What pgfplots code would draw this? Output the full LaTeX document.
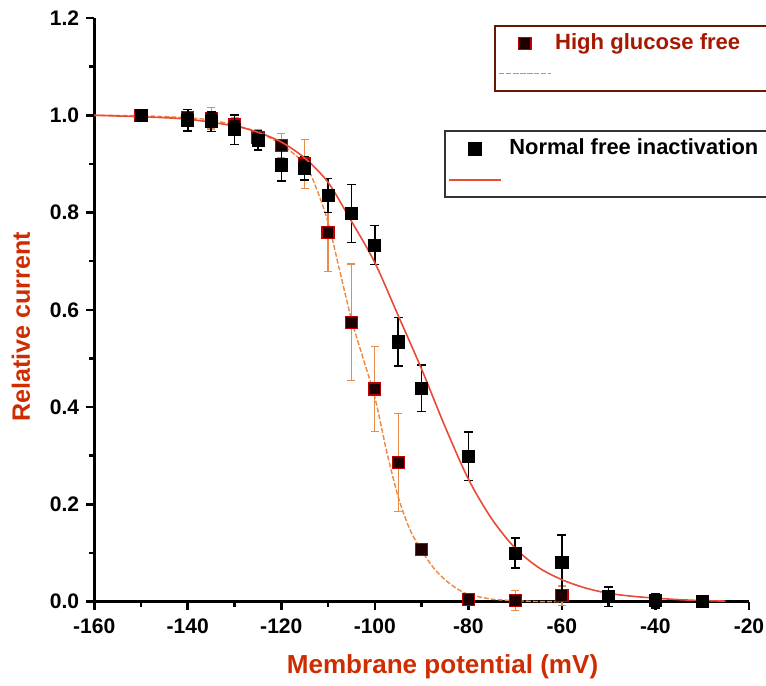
\documentclass[border=0pt]{standalone}
\usepackage{pgfplots}
\pgfplotsset{compat=1.18}
\usepackage{pgfplotstable}
\usepackage{fontspec}
\setmainfont{Liberation Sans}
\definecolor{labred}{RGB}{205,45,0}
\definecolor{hgred}{RGB}{165,25,0}
\definecolor{hgbox}{RGB}{100,25,0}
\definecolor{fitred}{RGB}{232,75,55}
\definecolor{fitorange}{RGB}{240,135,60}
\definecolor{errorange}{RGB}{232,140,70}

\pgfplotstableread{
x y e
-150 1.000 0.005
-140 0.990 0.022
-135 0.987 0.020
-130 0.970 0.030
-125 0.949 0.020
-120 0.898 0.033
-115 0.891 0.024
-110 0.835 0.035
-105 0.798 0.060
-100 0.733 0.040
-95 0.534 0.050
-90 0.439 0.048
-80 0.299 0.050
-70 0.100 0.031
-60 0.080 0.057
-50 0.010 0.020
-40 0.002 0.015
-30 0.000 0.004
}\normdata

\pgfplotstableread{
x y e
-150 1.000 0.005
-140 0.995 0.010
-135 0.994 0.022
-130 0.980 0.015
-125 0.955 0.015
-120 0.938 0.025
-115 0.900 0.050
-110 0.759 0.080
-105 0.574 0.120
-100 0.437 0.088
-95 0.286 0.100
-90 0.107 0.010
-80 0.005 0.010
-70 0.002 0.020
-60 0.012 0.020
}\hgdata

\pgfplotstableread{
x y
-160 1.000
-150 0.997
-140 0.992
-130 0.978
-125 0.965
-120 0.945
-115 0.912
-110 0.862
-105 0.782
-100 0.697
-95 0.588
-90 0.478
-85 0.360
-80 0.252
-75 0.170
-70 0.110
-65 0.070
-60 0.045
-55 0.028
-50 0.017
-45 0.011
-40 0.007
-35 0.004
-30 0.002
-25 0.001
}\normfit

\pgfplotstableread{
x y
-160 1.000
-150 0.999
-140 0.995
-135 0.990
-130 0.980
-125 0.965
-120 0.940
-115 0.900
-112.5 0.850
-110 0.780
-107.5 0.680
-105 0.580
-102.5 0.500
-100 0.420
-97.5 0.310
-95 0.215
-92.5 0.148
-90 0.105
-87.5 0.070
-85 0.045
-82.5 0.027
-80 0.015
-75 0.005
-70 0.002
-65 0.000
-60 0.000
}\hgfit

\pgfplotsset{
  base/.style={
    scale only axis, width=326.5pt, height=291pt,
    xmin=-160, xmax=-20, ymin=0, ymax=1.2,
    clip=false,
    legend cell align=left,
    legend image code/.code={\draw[mark repeat=2,mark phase=2,##1] plot coordinates {(0pt,0pt)(12.75pt,0pt)(25.5pt,0pt)};},
  },
}

\begin{document}
\begin{tikzpicture}
\path[use as bounding box] (-47pt,-42pt) rectangle (335pt,300pt);
\clip (-47pt,-42pt) rectangle (335pt,300pt);
\begin{axis}[base,
    axis x line*=bottom, axis y line*=left,
    axis line style={line width=1.5pt, -},
    xtick={-160,-140,-120,-100,-80,-60,-40,-20}, minor x tick num=1,
    ytick={0,0.2,0.4,0.6,0.8,1.0,1.2}, minor y tick num=1,
    tick align=outside, major tick length=4pt, minor tick length=2.5pt,
    every tick/.style={line width=1.3pt, black},
    ticklabel style={font=\bfseries\fontsize{10.5}{12}\selectfont},
    xticklabel style={yshift=-1pt},
    /pgf/number format/assume math mode=true,
    yticklabel style={/pgf/number format/fixed, /pgf/number format/fixed zerofill, /pgf/number format/precision=1},
    xlabel={Membrane potential (mV)},
    xlabel style={font=\bfseries\fontsize{13}{15}\selectfont, text=labred, at={(axis description cs:0.532,-0.124)}, anchor=base},
    ylabel={Relative current},
    ylabel style={font=\bfseries\fontsize{12.5}{14}\selectfont, text=labred, at={(axis description cs:-0.112,0.471)}, anchor=center},
    legend style={at={(rel axis cs:0.610,0.988)}, anchor=north west, draw=hgbox, line width=1pt,
      font=\bfseries\fontsize{11}{13}\selectfont, text=hgred,
      inner xsep=2pt, inner ysep=1.5pt, row sep=0.5pt,
      nodes={text height=8pt, text depth=2.5pt, inner sep=2pt}},
  ]
  \addplot[only marks, mark=square*, mark size=3pt,
    mark options={fill=black!88!red, draw=red!75!black, line width=0.6pt},
    error bars/.cd, y dir=both, y explicit,
    error bar style={line width=0.6pt, color=errorange},
    error mark options={rotate=90, mark size=2pt, line width=0.6pt, color=errorange}]
    table[x=x, y=y, y error=e] {\hgdata};
  \addlegendentry{High glucose free\hspace*{40pt}}
  \addplot[fitorange, line width=0.7pt, smooth, dash pattern=on 2.5pt off 1pt] table[x=x, y=y] {\hgfit};
  \addlegendentry{}
\end{axis}
\begin{axis}[base, hide axis,
    legend style={at={(rel axis cs:0.5336,0.8076)}, anchor=north west, draw=black!80, line width=1pt,
      font=\bfseries\fontsize{10.9}{13}\selectfont, text=black,
      inner xsep=2pt, inner ysep=1.5pt, row sep=1pt,
      nodes={text height=8pt, text depth=2.5pt, inner sep=2pt}},
  ]
  \addplot[only marks, mark=square*, mark size=3pt,
    mark options={fill=black, draw=black},
    error bars/.cd, y dir=both, y explicit,
    error bar style={line width=0.8pt, color=black},
    error mark options={rotate=90, mark size=2.2pt, line width=0.8pt, color=black}]
    table[x=x, y=y, y error=e] {\normdata};
  \addlegendentry{\hspace*{2pt}Normal free inactivation\hspace*{40pt}}
  \addplot[fitred, line width=0.8pt, smooth] table[x=x, y=y] {\normfit};
  \addlegendentry{}
\end{axis}
\end{tikzpicture}
\end{document}
